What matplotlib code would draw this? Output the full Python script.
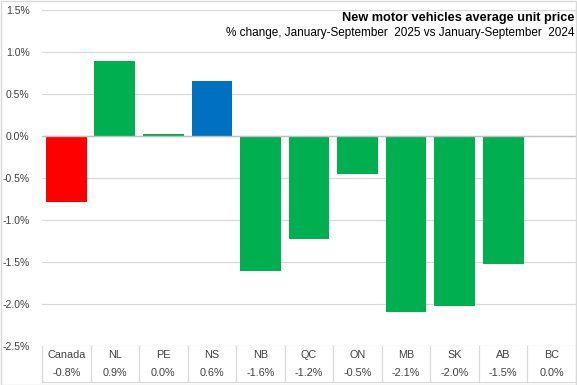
import matplotlib
matplotlib.use("Agg")
from matplotlib import pyplot as plt

provinces = ["Canada", "NL", "PE", "NS", "NB", "QC", "ON", "MB", "SK", "AB", "BC"]
change = [-0.79, 0.89, 0.02, 0.65, -1.61, -1.23, -0.46, -2.10, -2.02, -1.52, 0.0]
labels = ["-0.8%", "0.9%", "0.0%", "0.6%", "-1.6%", "-1.2%", "-0.5%", "-2.1%", "-2.0%", "-1.5%", "0.0%"]
colors = ["#FF0000", "#00B050", "#00B050", "#0070C0", "#00B050", "#00B050",
          "#00B050", "#00B050", "#00B050", "#00B050", "#00B050"]
yticks = [-2.5, -2.0, -1.5, -1.0, -0.5, 0.0, 0.5, 1.0, 1.5]

plt.rcParams["font.family"] = ["Liberation Sans", "DejaVu Sans"]

grid_col = "#D9D9D9"
text_col = "#404040"

fig = plt.figure(figsize=(5.77, 3.85), dpi=100)
ax = fig.add_axes([42 / 577, 1 - 346 / 385, (576 - 42) / 577, (346 - 9.5) / 385])

x = list(range(len(provinces)))
ax.bar(x, change, width=0.84, color=colors, zorder=3)

ax.set_xlim(-0.5, len(provinces) - 0.5)
ax.set_ylim(-2.5, 1.5)
ax.set_yticks(yticks)
ax.set_yticklabels([f"{v:.1f}%" for v in yticks], fontsize=7.5, color=text_col)
ax.tick_params(axis="y", length=0, pad=9)
ax.set_xticks([])
ax.grid(axis="y", color=grid_col, linewidth=0.9, zorder=0)
ax.axhline(0, color="#BFBFBF", linewidth=1, zorder=4)
for s in ax.spines.values():
    s.set_visible(False)

# data table under the plot
trans = ax.get_xaxis_transform()
y_bottom = -(382 - 346) / (346 - 9.5)
y_cat = -(355 - 346) / (346 - 9.5)
y_val = -(373 - 346) / (346 - 9.5)
for i, (p, l) in enumerate(zip(provinces, labels)):
    ax.text(i, y_cat, p, transform=trans, ha="center", va="center", fontsize=7.8, color=text_col)
    ax.text(i, y_val, l, transform=trans, ha="center", va="center", fontsize=7.8, color=text_col)
for b in range(len(provinces) + 1):
    ax.plot([b - 0.5, b - 0.5], [0, y_bottom], transform=trans, color=grid_col,
            linewidth=0.9, clip_on=False)
ax.plot([-0.5, len(provinces) - 0.5], [y_bottom, y_bottom], transform=trans,
        color=grid_col, linewidth=0.9, clip_on=False)

fig.text(0.995, 1 - 18 / 385, "New motor vehicles average unit price", ha="right", va="center",
         fontsize=9.2, fontweight="bold", color="black")
fig.text(0.995, 1 - 33 / 385, "% change, January-September  2025 vs January-September  2024",
         ha="right", va="center", fontsize=8.5, color="black")

# chart border
fig.patches.append(plt.Rectangle((0.001, 0.001), 0.998, 0.996, transform=fig.transFigure,
                                 fill=False, edgecolor=grid_col, linewidth=1))

fig.savefig("out.png", dpi=100)
